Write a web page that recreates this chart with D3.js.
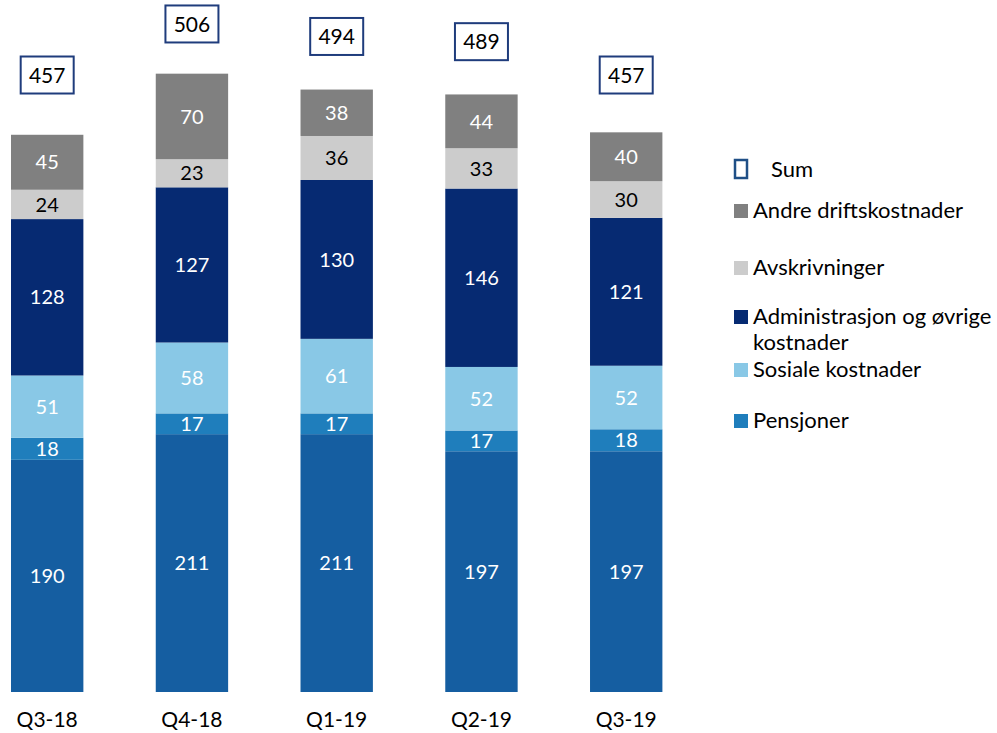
<!DOCTYPE html>
<html>
<head>
<meta charset="utf-8">
<script src="https://cdn.jsdelivr.net/npm/d3@7"></script>
<style>
  html, body { margin: 0; padding: 0; background: #fff; }
  svg { display: block; font-family: Lato, "Open Sans", sans-serif; }
</style>
</head>
<body>
<svg id="chart" width="997" height="733"></svg>
<script>
// Quarterly operating costs, stacked by cost type (NOK million)
const categories = ["Q3-18", "Q4-18", "Q1-19", "Q2-19", "Q3-19"];
const lonn = [190, 211, 211, 197, 197];
const pensjoner = [18, 17, 17, 17, 18];
const sosiale = [51, 58, 61, 52, 52];
const administrasjon = [128, 127, 130, 146, 121];
const avskrivninger = [24, 23, 36, 33, 30];
const andre = [45, 70, 38, 44, 40];
const sum = [457, 506, 494, 489, 457];

// Stack order from the baseline upwards
const seriesDefs = [
  { key: "lonn", name: "Lønn", values: lonn, color: "#155EA1", text: "#fff" },
  { key: "pensjoner", name: "Pensjoner", values: pensjoner, color: "#1F7EBC", text: "#fff" },
  { key: "sosiale", name: "Sosiale kostnader", values: sosiale, color: "#89C8E6", text: "#fff" },
  { key: "administrasjon", name: "Administrasjon og øvrige kostnader", values: administrasjon, color: "#062A72", text: "#fff" },
  { key: "avskrivninger", name: "Avskrivninger", values: avskrivninger, color: "#CCCCCC", text: "#000" },
  { key: "andre", name: "Andre driftskostnader", values: andre, color: "#808080", text: "#fff" }
];

const table = categories.map((c, i) => {
  const row = { category: c, sum: sum[i] };
  seriesDefs.forEach(s => { row[s.key] = s.values[i]; });
  return row;
});

const svg = d3.select("#chart");

const x = d3.scaleBand()
  .domain(categories)
  .range([11, 662.4])
  .paddingInner(0.5)
  .paddingOuter(0);

const y = d3.scaleLinear().domain([0, 500]).range([692, 81]);

// The sum boxes float above the bars on their own scale
const ySum = d3.scaleLinear().domain([450, 510]).range([82.3, 19.8]);

const stack = d3.stack().keys(seriesDefs.map(s => s.key));
const stacked = stack(table);

const layers = svg.append("g").selectAll("g.layer")
  .data(stacked)
  .join("g")
  .attr("class", "layer")
  .attr("fill", (d, i) => seriesDefs[i].color);

layers.selectAll("rect")
  .data(d => d)
  .join("rect")
  .attr("x", d => x(d.data.category))
  .attr("width", x.bandwidth())
  .attr("y", d => y(d[1]))
  .attr("height", d => y(d[0]) - y(d[1]));

// Segment value labels
layers.each(function (layer, i) {
  d3.select(this).selectAll("text")
    .data(layer)
    .join("text")
    .attr("x", d => x(d.data.category) + x.bandwidth() / 2)
    .attr("y", d => (y(d[0]) + y(d[1])) / 2)
    .attr("dy", "0.36em")
    .attr("text-anchor", "middle")
    .attr("font-size", 20)
    .attr("fill", seriesDefs[i].text)
    .text(d => d[1] - d[0]);
});

// Sum boxes
const sums = svg.append("g").selectAll("g")
  .data(table)
  .join("g")
  .attr("transform", d => `translate(${x(d.category) + x.bandwidth() / 2},${ySum(d.sum)})`);

sums.append("rect")
  .attr("x", -26.5)
  .attr("y", -18.5)
  .attr("width", 53)
  .attr("height", 37)
  .attr("fill", "#fff")
  .attr("stroke", "#1F3C7C")
  .attr("stroke-width", 2);

sums.append("text")
  .attr("text-anchor", "middle")
  .attr("dy", "0.36em")
  .attr("font-size", 21)
  .attr("fill", "#000")
  .text(d => d.sum);

// Category axis
const xAxis = svg.append("g")
  .attr("transform", "translate(0,692)")
  .call(d3.axisBottom(x).tickSize(0).tickPadding(0));
xAxis.select(".domain").remove();
xAxis.selectAll("text")
  .attr("font-family", "Lato, 'Open Sans', sans-serif")
  .attr("font-size", 21)
  .attr("fill", "#000")
  .attr("y", 35)
  .attr("dy", 0);

// Legend
const legend = svg.append("g").attr("font-size", 22).attr("fill", "#000");

const sumItem = legend.append("g").attr("transform", "translate(734,177)");
sumItem.append("rect")
  .attr("x", 1).attr("y", -17).attr("width", 12).attr("height", 18)
  .attr("fill", "#fff").attr("stroke", "#1F4F86").attr("stroke-width", 2.5);
sumItem.append("text").attr("x", 37).attr("y", 0).text("Sum");

const legendRows = [
  { key: "andre", baseline: 218 },
  { key: "avskrivninger", baseline: 275 },
  { key: "administrasjon", baseline: 324, lines: ["Administrasjon og øvrige", "kostnader"], lineGap: 26 },
  { key: "sosiale", baseline: 377 },
  { key: "pensjoner", baseline: 428 }
];

legendRows.forEach(r => {
  const s = seriesDefs.find(d => d.key === r.key);
  const g = legend.append("g").attr("transform", `translate(734,${r.baseline})`);
  g.append("rect")
    .attr("x", 0).attr("y", -14).attr("width", 14).attr("height", 14)
    .attr("fill", s.color);
  const lines = r.lines || [s.name];
  const t = g.append("text").attr("x", 19).attr("y", 0);
  lines.forEach((ln, j) => {
    t.append("tspan").attr("x", 19).attr("y", j * (r.lineGap || 0)).text(ln);
  });
});
</script>
</body>
</html>
